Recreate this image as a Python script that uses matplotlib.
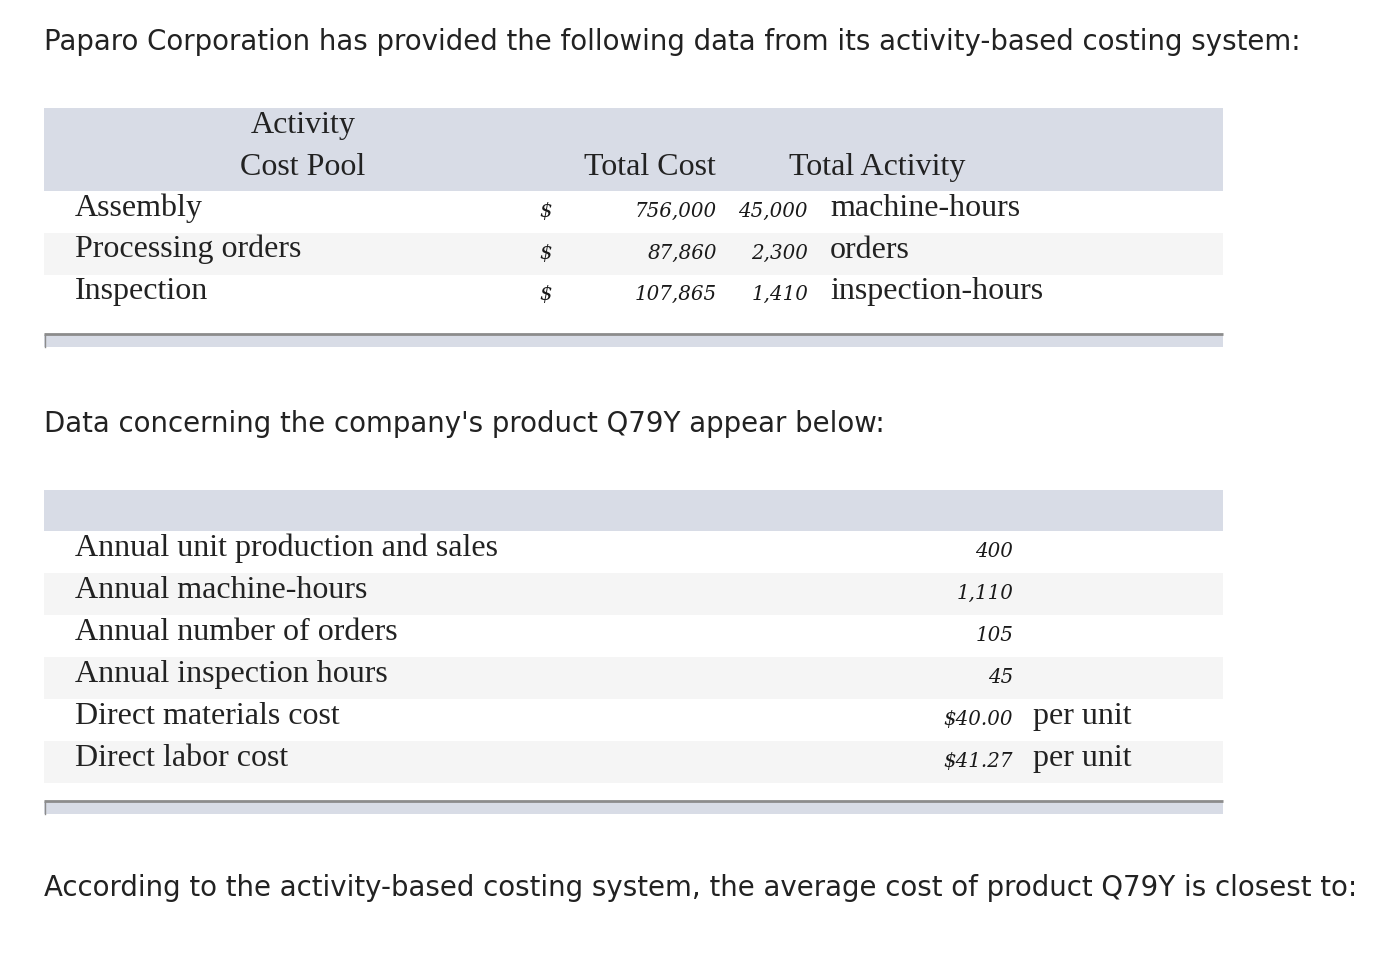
import matplotlib
matplotlib.use("Agg")
import matplotlib.pyplot as plt
from matplotlib.patches import Rectangle

# ---- data ----
intro = "Paparo Corporation has provided the following data from its activity-based costing system:"
middle = "Data concerning the company's product Q79Y appear below:"
question = "According to the activity-based costing system, the average cost of product Q79Y is closest to:"

pools = ["Assembly", "Processing orders", "Inspection"]
pool_costs = ["756,000", "87,860", "107,865"]
pool_activity = ["45,000", "2,300", "1,410"]
pool_units = ["machine-hours", "orders", "inspection-hours"]

product_items = ["Annual unit production and sales", "Annual machine-hours",
                 "Annual number of orders", "Annual inspection hours",
                 "Direct materials cost", "Direct labor cost"]
product_values = ["400", "1,110", "105", "45", "$40.00", "$41.27"]
product_units = ["", "", "", "", "per unit", "per unit"]

HEAD = "#d8dce6"
ALT = "#f5f5f5"
LINE = "#8c8c8c"
TXT = "#222222"
SANS = "DejaVu Sans"
SERIF = "Liberation Serif"
NUM = "DejaVu Serif"
SZ_SANS = 19.9
SZ_SERIF = 23
SZ_NUM = 14.3

fig = plt.figure(figsize=(13.9, 9.68), dpi=100)
ax = fig.add_axes([0, 0, 1, 1])
ax.set_xlim(0, 1390)
ax.set_ylim(968, 0)
ax.axis("off")

L, R = 44, 1223
ROW = 42


def band(y0, y1, color):
    ax.add_patch(Rectangle((L, y0), R - L, y1 - y0, color=color, lw=0))


def footer(y):
    band(y + 1, y + 13, HEAD)
    ax.plot([L, R], [y, y], color=LINE, lw=2, solid_capstyle="butt")
    ax.plot([L + 0.5, L + 0.5], [y, y + 13], color=LINE, lw=1)


def serif(x, y, s, **kw):
    ax.text(x, y, s, fontsize=SZ_SERIF, family=SERIF, color=TXT, va="baseline", **kw)


def num(x, y, s, **kw):
    ax.text(x, y, s, fontsize=SZ_NUM, family=NUM, style="italic", color="#1a1a1a",
            va="baseline", **kw)


ax.text(L, 50, intro, fontsize=SZ_SANS, family=SANS, color=TXT, va="baseline")

# table 1
band(108, 191, HEAD)
for i in range(len(pools)):
    y0 = 191 + i * ROW
    if i % 2 == 1:
        band(y0, y0 + ROW, ALT)
footer(334)

serif(303, 133, "Activity", ha="center")
serif(303, 175, "Cost Pool", ha="center")
serif(650, 175, "Total Cost", ha="center")
serif(877, 175, "Total Activity", ha="center")

for i, (p, c, a, u) in enumerate(zip(pools, pool_costs, pool_activity, pool_units)):
    yb = 216 + i * 41.5
    serif(75, yb, p)
    num(546, yb + 1, "$", ha="center")
    num(717, yb + 1, c, ha="right")
    num(808, yb + 1, a, ha="right")
    serif(830, yb, u)

ax.text(L, 432, middle, fontsize=SZ_SANS, family=SANS, color=TXT, va="baseline")

# table 2
band(490, 531, HEAD)
for i in range(len(product_items)):
    y0 = 531 + i * ROW
    if i % 2 == 1:
        band(y0, y0 + ROW, ALT)
footer(801)

for i, (lab, v, u) in enumerate(zip(product_items, product_values, product_units)):
    yb = 556 + i * ROW
    serif(75, yb, lab)
    num(1013, yb + 1, v, ha="right")
    if u:
        serif(1033, yb, u)

ax.text(L, 896, question, fontsize=SZ_SANS, family=SANS, color=TXT, va="baseline")

fig.savefig("out.png", dpi=100)
